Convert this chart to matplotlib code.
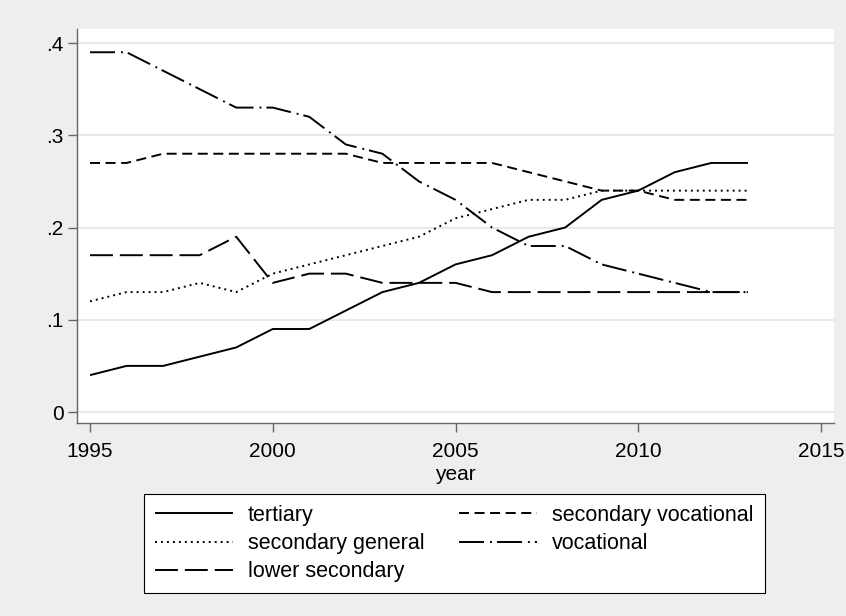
import matplotlib
matplotlib.use("Agg")
import matplotlib.pyplot as plt

plt.rcParams['font.family'] = ['Liberation Sans', 'DejaVu Sans']
plt.rcParams['lines.scale_dashes'] = False

years = list(range(1995, 2014))

tertiary = [.04, .05, .05, .06, .07, .09, .09, .11, .13, .14,
            .16, .17, .19, .20, .23, .24, .26, .27, .27]
secondary_vocational = [.27, .27, .28, .28, .28, .28, .28, .28, .27, .27,
                        .27, .27, .26, .25, .24, .24, .23, .23, .23]
secondary_general = [.12, .13, .13, .14, .13, .15, .16, .17, .18, .19,
                     .21, .22, .23, .23, .24, .24, .24, .24, .24]
vocational = [.39, .39, .37, .35, .33, .33, .32, .29, .28, .25,
              .23, .20, .18, .18, .16, .15, .14, .13, .13]
lower_secondary = [.17, .17, .17, .17, .19, .14, .15, .15, .14, .14,
                   .14, .13, .13, .13, .13, .13, .13, .13, .13]

x_ticks = [1995, 2000, 2005, 2010, 2015]
y_ticks = [0, .1, .2, .3, .4]
y_tick_labels = ["0", ".1", ".2", ".3", ".4"]

bg = "#eeeeee"
axis_gray = "#666666"
lw = 1.4

fig = plt.figure(figsize=(8.46, 6.16), dpi=100, facecolor=bg)
ax = fig.add_axes([77 / 846, 1 - 423 / 616, (834 - 77) / 846, (423 - 29) / 616])
ax.set_facecolor("white")

styles = [
    ("tertiary", tertiary, (0, ())),
    ("secondary general", secondary_general, (0, (1.4, 2.9))),
    ("lower secondary", lower_secondary, (0, (16.5, 5.0))),
    ("secondary vocational", secondary_vocational, (0, (7.2, 4.0))),
    ("vocational", vocational, (0, (18.0, 4.3, 1.4, 3.6))),
]

handles = []
for label, values, ls in styles:
    h, = ax.plot(years, values, color="black", lw=lw, linestyle=ls, label=label,
                 solid_capstyle="butt", dash_capstyle="butt")
    handles.append(h)

ax.set_xlim(1994.644, 2015.356)
ax.set_ylim(-0.0119, 0.4152)
ax.set_xticks(x_ticks)
ax.set_yticks(y_ticks)
ax.set_yticklabels(y_tick_labels)

ax.yaxis.grid(True, color="#e4e4e4", lw=1.2)
ax.set_axisbelow(True)

for side in ("top", "right"):
    ax.spines[side].set_visible(False)
for side in ("left", "bottom"):
    ax.spines[side].set_color(axis_gray)
    ax.spines[side].set_linewidth(1.0)

ax.tick_params(axis="both", colors=axis_gray, labelcolor="black",
               labelsize=15, length=6.5, width=1.0)
ax.tick_params(axis="y", pad=3)
ax.tick_params(axis="x", pad=7)

ax.set_xlabel("year", fontsize=15, labelpad=3)

leg = fig.legend(handles=handles, loc="upper left",
                 bbox_to_anchor=(144 / 846, 1 - 494 / 616),
                 borderaxespad=0, ncol=2, fontsize=15.5,
                 handlelength=3.63, handletextpad=0.7, borderpad=0.5,
                 labelspacing=0.34, columnspacing=1.6,
                 frameon=True, fancybox=False, facecolor="white",
                 edgecolor="black", framealpha=1)
leg.get_frame().set_linewidth(0.8)

fig.savefig("out.png", dpi=100, facecolor=bg)
